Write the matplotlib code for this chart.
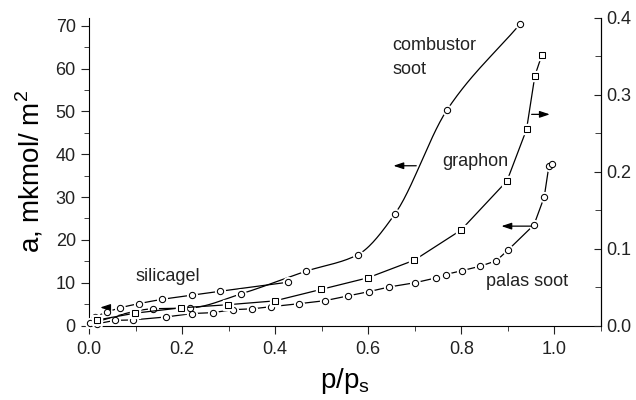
import numpy as np
import matplotlib
matplotlib.use('Agg')
import matplotlib.pyplot as plt
from matplotlib.ticker import MultipleLocator

plt.rcParams['font.family'] = ['Liberation Sans', 'DejaVu Sans']

# data (left axis: a, mkmol/m^2; right axis for graphon)
silica_x = [0.013, 0.038, 0.066, 0.107, 0.157, 0.222, 0.282, 0.427]
silica_y = [2.1, 3.1, 4.1, 5.1, 6.1, 7.1, 8.0, 10.1]

comb_x = [0.002, 0.138, 0.217, 0.327, 0.467, 0.577, 0.657, 0.769, 0.927]
comb_y = [0.5, 3.9, 4.1, 7.4, 12.7, 16.5, 26.0, 50.3, 70.5]

graphon_x = [0.017, 0.098, 0.198, 0.298, 0.399, 0.499, 0.599, 0.699, 0.799,
             0.898, 0.940, 0.958, 0.973]
graphon_y = [0.007, 0.016, 0.023, 0.027, 0.032, 0.047, 0.062, 0.085, 0.124,
             0.188, 0.255, 0.325, 0.352]

palas_x = [0.017, 0.056, 0.094, 0.166, 0.222, 0.266, 0.310, 0.351, 0.392,
           0.452, 0.507, 0.556, 0.601, 0.645, 0.701, 0.745, 0.766, 0.801,
           0.839, 0.875, 0.901, 0.956, 0.978, 0.988, 0.995]
palas_y = [0.4, 1.2, 1.3, 2.0, 2.8, 3.0, 3.7, 3.9, 4.4, 5.1, 5.8, 6.9, 7.9,
           9.0, 10.0, 11.1, 11.9, 12.8, 13.8, 15.1, 17.7, 23.5, 30.0, 37.2, 37.7]


def smooth(x, y, n=30):
    # monotone cubic (pchip) curve through the points, for drawing only
    x = np.asarray(x, float)
    y = np.asarray(y, float)
    h = np.diff(x)
    d = np.diff(y) / h
    m = np.zeros_like(y)
    for k in range(1, len(x) - 1):
        if d[k - 1] * d[k] > 0:
            w1 = 2 * h[k] + h[k - 1]
            w2 = h[k] + 2 * h[k - 1]
            m[k] = (w1 + w2) / (w1 / d[k - 1] + w2 / d[k])
    m[0] = d[0]
    m[-1] = d[-1]
    xs, ys = [], []
    for k in range(len(x) - 1):
        t = np.linspace(0, 1, n)
        h00 = 2 * t ** 3 - 3 * t ** 2 + 1
        h10 = t ** 3 - 2 * t ** 2 + t
        h01 = -2 * t ** 3 + 3 * t ** 2
        h11 = t ** 3 - t ** 2
        xs.append(x[k] + t * h[k])
        ys.append(h00 * y[k] + h10 * h[k] * m[k] + h01 * y[k + 1] + h11 * h[k] * m[k + 1])
    return np.concatenate(xs), np.concatenate(ys)


def draw(ax, x, y, marker, curve=False, ms=4.5):
    if curve:
        lx, ly = smooth(x, y)
    else:
        lx, ly = x, y
    ax.plot(lx, ly, color='black', lw=0.9, zorder=2, clip_on=False)
    ax.plot(x, y, ls='none', marker=marker, ms=ms + 2.5, mfc='white', mec='white',
            zorder=3, clip_on=False)
    ax.plot(x, y, ls='none', marker=marker, ms=ms, mfc='white', mec='black',
            mew=0.75, zorder=4, clip_on=False)


fig = plt.figure(figsize=(6.36, 4), dpi=100)
ax = fig.add_axes([89 / 636, 1 - 325.5 / 400, (601 - 89) / 636, (325.5 - 18) / 400])
ax2 = ax.twinx()

draw(ax, palas_x, palas_y, 'o')
draw(ax2, graphon_x, graphon_y, 's', ms=4)
draw(ax, comb_x, comb_y, 'o', curve=True)
draw(ax, silica_x, silica_y, 'o', curve=True)

ax.set_xlim(0, 1.1)
ax.set_ylim(0, 71.8)
ax2.set_ylim(0, 0.4)

for a in (ax, ax2):
    a.spines['top'].set_visible(False)
ax2.spines['left'].set_visible(False)
ax2.spines['bottom'].set_visible(False)

ax.xaxis.set_major_locator(MultipleLocator(0.2))
ax.xaxis.set_minor_locator(MultipleLocator(0.1))
ax.yaxis.set_major_locator(MultipleLocator(10))
ax.yaxis.set_minor_locator(MultipleLocator(5))
ax2.yaxis.set_major_locator(MultipleLocator(0.1))
ax2.yaxis.set_minor_locator(MultipleLocator(0.05))
ax.xaxis.set_major_formatter(plt.FormatStrFormatter('%.1f'))
ax2.yaxis.set_major_formatter(plt.FormatStrFormatter('%.1f'))

ax.tick_params(which='both', direction='out', labelsize=13, colors='#222222')
ax.tick_params(which='major', length=6)
ax.tick_params(which='minor', length=3.5)
ax.tick_params(axis='x', pad=5)
ax2.tick_params(which='both', direction='in', labelsize=13, colors='#222222')
ax2.tick_params(which='major', length=5)
ax2.tick_params(which='minor', length=4)

ax.set_xlabel('p/p$_\\mathregular{s}$', fontsize=20, labelpad=6)
ax.set_ylabel('a, mkmol/ m$^\\mathregular{2}$', fontsize=20, labelpad=7)

txt = dict(fontsize=13, color='#222222', va='baseline')
ax.text(0.652, 64.4, 'combustor', **txt)
ax.text(0.652, 58.8, 'soot', **txt)
ax.text(0.759, 37.3, 'graphon', **txt)
ax.text(0.099, 10.4, 'silicagel', **txt)
ax.text(0.853, 9.2, 'palas soot', **txt)

arrow = dict(arrowstyle='-|>,head_length=0.6,head_width=0.2', color='black', lw=0.9)
ax.annotate('', xy=(0.648, 37.3), xytext=(0.709, 37.3), arrowprops=arrow)
ax.annotate('', xy=(0.996, 49.3), xytext=(0.945, 49.3), arrowprops=arrow)
ax.annotate('', xy=(0.880, 23.2), xytext=(0.957, 23.2), arrowprops=arrow)
ax.annotate('', xy=(0.018, 4.2), xytext=(0.045, 4.2), arrowprops=arrow)

fig.savefig('out.png', dpi=100)
